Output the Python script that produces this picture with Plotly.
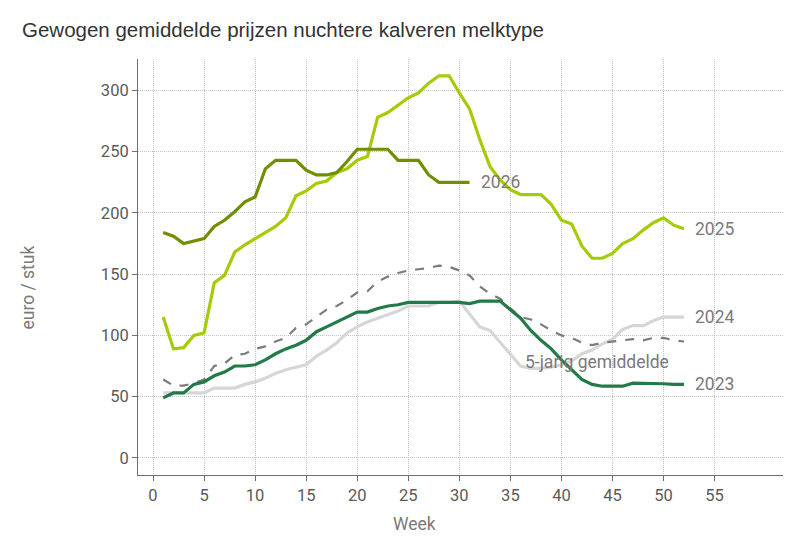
import plotly.graph_objects as go

# Week numbers
weeks = list(range(1, 53))
weeks2026 = list(range(1, 32))

# Prices in euro / stuk
prices2023 = [49, 53, 53, 60, 62, 67, 70, 75, 75, 76,
              80, 85, 89, 92, 96, 103, 107, 111, 115, 119,
              119, 122, 124, 125, 127, 127, 127, 127, 127, 127,
              126, 128, 128, 128, 121, 114, 104, 96, 89, 80,
              72, 64, 60, 58.5, 58.5, 58.5, 61, 61, 61, 60.5, 60, 60]
prices2024 = [53, 53, 53, 53, 53, 57, 57, 57, 60, 62,
              65, 69, 72, 74, 76, 83, 88, 94, 102, 107,
              111, 114, 117, 120, 124, 124, 124, 127, 127, 128,
              117, 107, 104, 94, 84, 75, 73, 73, 74, 76,
              79, 85, 88, 93, 97, 105, 108, 108, 112, 115, 115, 115]
prices2025 = [115, 89, 90, 100, 102, 143, 149, 168, 174, 179,
              184, 189, 196, 214, 218, 224, 226, 233, 236, 243,
              246, 278, 282, 288, 294, 298, 306, 312, 312, 298,
              285, 260, 238, 227, 219, 215, 215, 215, 207, 194,
              191, 173, 163, 163, 167, 175, 179, 186, 192, 196, 190, 187]
prices2026 = [184, 181, 175, 177, 179, 189, 194, 201, 209, 213,
              236, 243, 243, 243, 235, 231, 231, 233, 242, 252,
              252, 252, 252, 243, 243, 243, 231, 225, 225, 225, 225]
avg5yr = [64, 59, 59, 61, 64, 75, 77, 84, 85, 89,
          91, 95, 98, 106, 109, 115, 121, 124, 129, 135,
          136, 144, 148, 151, 153, 154, 155, 157, 156, 153,
          149, 140, 134, 130, 122, 115, 113, 109, 104, 100,
          98, 94, 92, 94, 95, 96, 97, 96, 98, 98, 96, 95]

xTicks = list(range(0, 60, 5))
yTicks = list(range(0, 301, 50))

labelFont = dict(family="Roboto", size=17.5, color="#7a7a7a")
tickFont = dict(family="Roboto", size=16.5, color="#5a5a5a")

fig = go.Figure()

# Order matters: grey lines underneath, current year on top
fig.add_trace(go.Scatter(x=weeks, y=prices2024, mode="lines", name="2024",
                         line=dict(color="#d6d6d6", width=3.2)))
fig.add_trace(go.Scatter(x=weeks, y=avg5yr, mode="lines", name="5-jarig gemiddelde",
                         line=dict(color="#7b7b7b", width=2.2, dash="dash")))
fig.add_trace(go.Scatter(x=weeks, y=prices2023, mode="lines", name="2023",
                         line=dict(color="#217a47", width=3.2)))
fig.add_trace(go.Scatter(x=weeks, y=prices2025, mode="lines", name="2025",
                         line=dict(color="#a3cc06", width=3.2)))
fig.add_trace(go.Scatter(x=weeks2026, y=prices2026, mode="lines", name="2026",
                         line=dict(color="#6f8f00", width=3.2)))

# End-of-line labels
endLabels = [("2026", weeks2026[-1], prices2026[-1]),
             ("2025", weeks[-1], prices2025[-1]),
             ("2024", weeks[-1], prices2024[-1]),
             ("2023", weeks[-1], prices2023[-1])]
for text, xVal, yVal in endLabels:
    fig.add_annotation(x=xVal, y=yVal, text=text, showarrow=False,
                       xanchor="left", yanchor="middle", xshift=9,
                       font=labelFont)

fig.add_annotation(x=43.5, y=78, text="5-jarig gemiddelde", showarrow=False,
                   xanchor="center", yanchor="middle", font=labelFont)

# Axis titles placed by hand (they are not centred on the plot in the original)
fig.add_annotation(x=0.429, y=-0.118, xref="paper", yref="paper", text="Week",
                   showarrow=False, xanchor="center", yanchor="middle", font=labelFont)
fig.add_annotation(x=-0.171, y=0.45, xref="paper", yref="paper", text="euro / stuk",
                   showarrow=False, textangle=-90, xanchor="center", yanchor="middle",
                   font=labelFont)

axisStyle = dict(showgrid=True, gridcolor="#c4c4c4", griddash="1px,1px", gridwidth=1,
                 showline=True, linecolor="#6e6e6e", linewidth=1,
                 ticks="outside", ticklen=5, tickcolor="#6e6e6e",
                 tickfont=tickFont, zeroline=False)
fig.update_xaxes(range=[-1.47, 61.7], tickvals=xTicks, **axisStyle)
fig.update_yaxes(range=[-14, 325.7], tickvals=yTicks, **axisStyle)

# page body adds 8px, so margins are 8px less than the target positions
fig.update_layout(width=800, height=559,
                  margin=dict(l=130, r=25, t=51, b=92),
                  plot_bgcolor="white", paper_bgcolor="white",
                  showlegend=False,
                  title=dict(text="Gewogen gemiddelde prijzen nuchtere kalveren melktype",
                             x=0.0175, xanchor="left", xref="container",
                             y=0.9606, yanchor="middle", yref="container",
                             font=dict(family="Liberation Sans", size=20.5, color="#333333")))

fig.write_html("out.html")
